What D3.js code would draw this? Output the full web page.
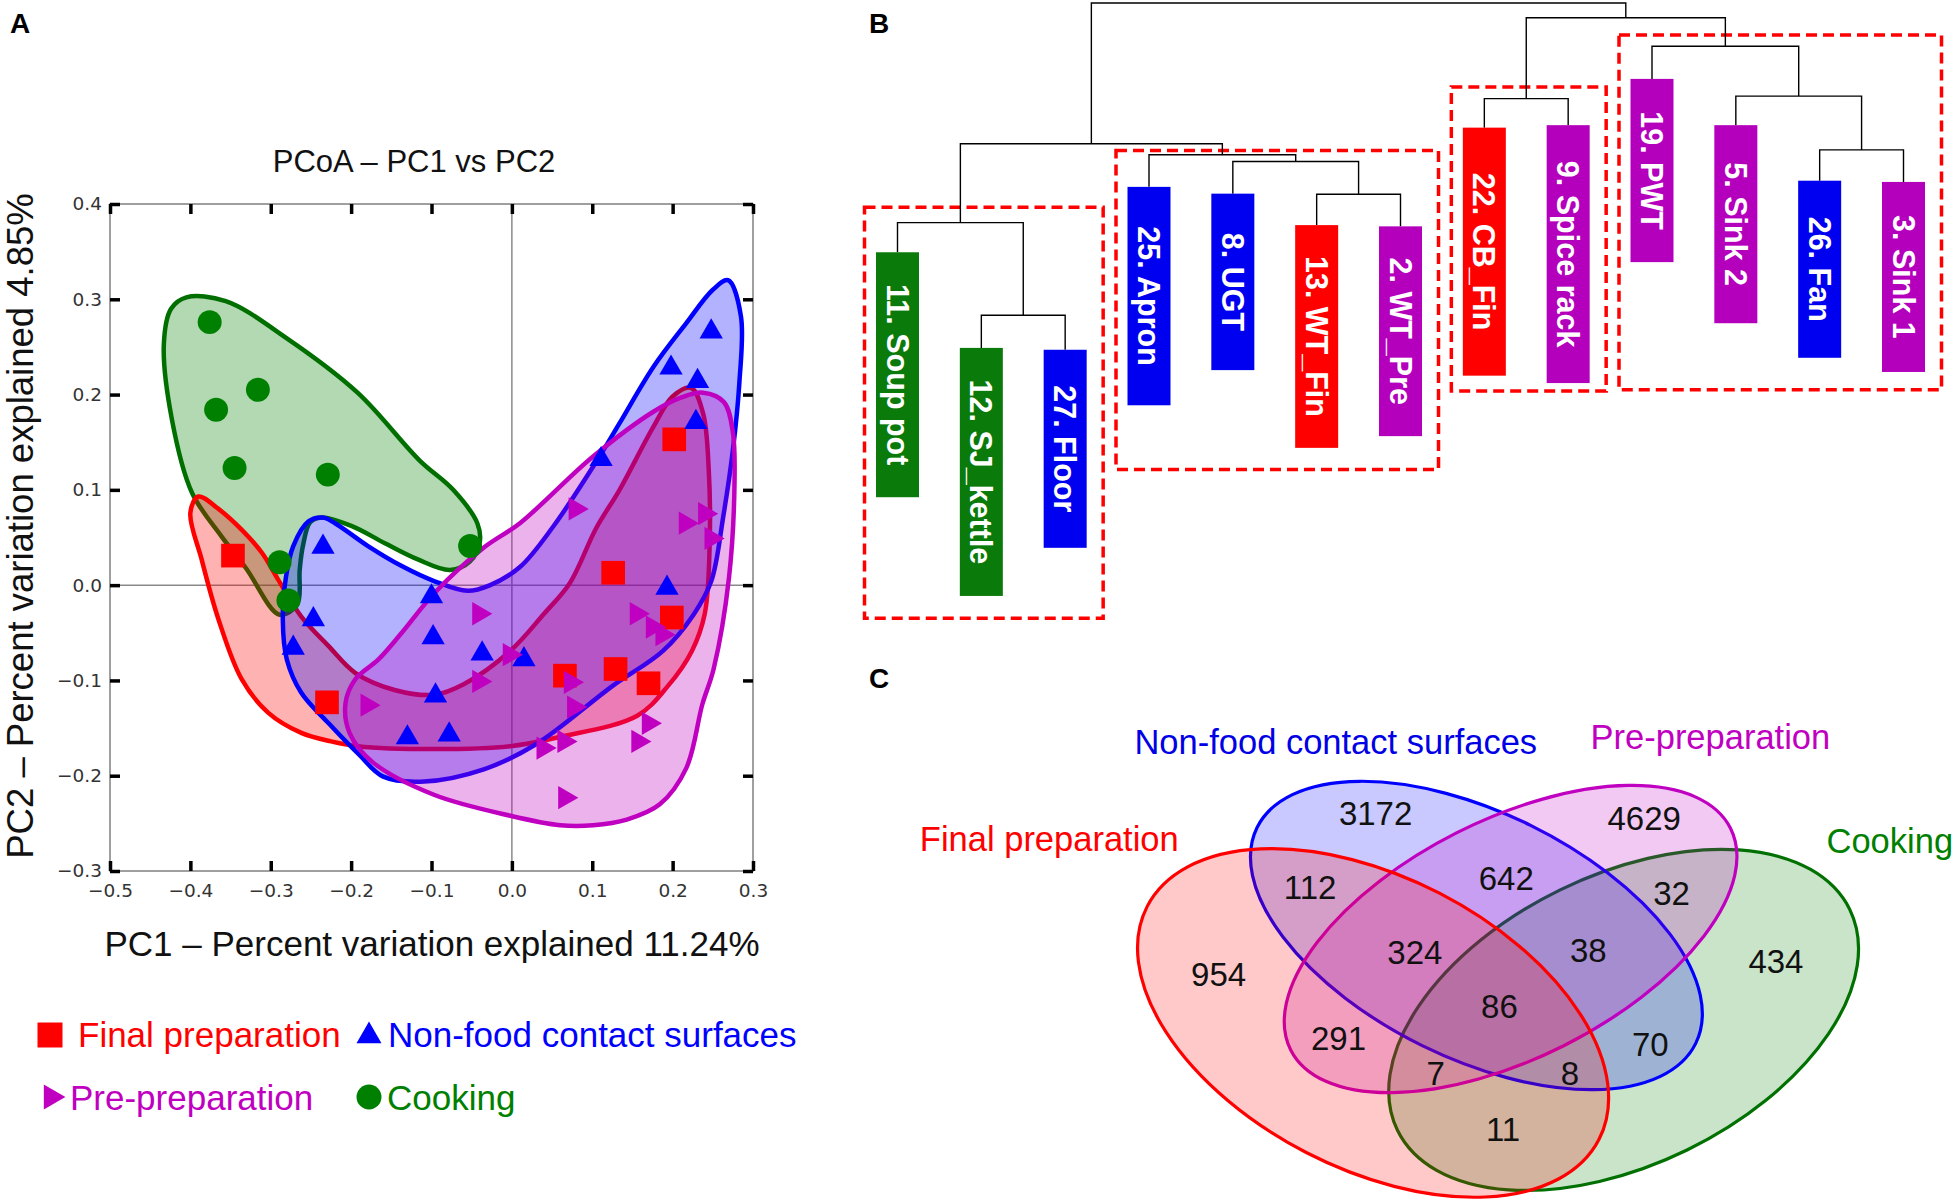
<!DOCTYPE html>
<html><head><meta charset="utf-8">
<script src="https://cdn.jsdelivr.net/npm/d3@7"></script>
<style>body{margin:0;background:#fff}svg{display:block}</style>
</head><body>
<svg id="c" width="1955" height="1199"></svg>
<script>
// ================= DATA =================
const groups = ["Final preparation", "Non-food contact surfaces", "Pre-preparation", "Cooking"];

// Panel A – PCoA scores (PC1, PC2)
const pcoaTicksX = [-0.5, -0.4, -0.3, -0.2, -0.1, 0.0, 0.1, 0.2, 0.3];
const pcoaTicksY = [-0.3, -0.2, -0.1, 0.0, 0.1, 0.2, 0.3, 0.4];
const ptsFinal = [[-0.347,0.031],[-0.230,-0.123],[0.202,0.153],[0.126,0.013],[0.199,-0.034],[0.066,-0.095],[0.129,-0.088],[0.170,-0.103]];
const ptsNonFood = [[0.248,0.266],[0.198,0.228],[0.231,0.214],[0.229,0.171],[0.111,0.132],[0.193,-0.003],[-0.235,0.040],[-0.100,-0.012],[-0.247,-0.036],[-0.272,-0.066],[-0.098,-0.055],[-0.037,-0.072],[0.015,-0.078],[-0.095,-0.116],[-0.130,-0.160],[-0.078,-0.157]];
const ptsPre = [[0.079,0.080],[0.216,0.065],[0.240,0.075],[0.248,0.049],[-0.041,-0.030],[0.155,-0.030],[0.175,-0.044],[0.187,-0.052],[-0.003,-0.073],[-0.041,-0.101],[0.073,-0.102],[-0.180,-0.126],[0.077,-0.128],[0.170,-0.145],[0.039,-0.171],[0.065,-0.164],[0.157,-0.164],[0.066,-0.223]];
const ptsCooking = [[-0.376,0.276],[-0.368,0.184],[-0.316,0.205],[-0.345,0.123],[-0.229,0.116],[-0.052,0.041],[-0.289,0.024],[-0.278,-0.016]];

// group envelopes (outline traced in PC units)
const hullCooking = [[-0.405,0.302],[-0.356,0.298],[-0.280,0.259],[-0.192,0.202],[-0.115,0.131],[-0.073,0.100],[-0.043,0.065],[-0.040,0.045],[-0.052,0.025],[-0.077,0.016],[-0.117,0.027],[-0.158,0.044],[-0.199,0.062],[-0.237,0.071],[-0.251,0.066],[-0.260,0.041],[-0.264,0.016],[-0.267,-0.020],[-0.289,-0.031],[-0.331,0.018],[-0.362,0.052],[-0.398,0.097],[-0.423,0.174],[-0.433,0.253],[-0.424,0.290]];
const hullFinal = [[-0.390,0.093],[-0.365,0.080],[-0.336,0.058],[-0.311,0.034],[-0.291,0.006],[-0.262,-0.033],[-0.228,-0.064],[-0.195,-0.092],[-0.146,-0.110],[-0.096,-0.115],[-0.060,-0.104],[-0.002,-0.069],[0.040,-0.030],[0.072,0.002],[0.105,0.060],[0.134,0.100],[0.176,0.166],[0.200,0.198],[0.223,0.207],[0.238,0.180],[0.245,0.120],[0.246,0.040],[0.240,-0.030],[0.224,-0.069],[0.194,-0.106],[0.156,-0.137],[0.061,-0.159],[-0.002,-0.169],[-0.097,-0.172],[-0.192,-0.169],[-0.225,-0.164],[-0.262,-0.155],[-0.303,-0.134],[-0.336,-0.099],[-0.365,-0.036],[-0.386,0.027],[-0.400,0.076]];
const hullNonFood = [[0.269,0.320],[0.285,0.282],[0.283,0.212],[0.275,0.142],[0.263,0.072],[0.248,0.004],[0.226,-0.031],[0.188,-0.069],[0.125,-0.106],[0.030,-0.167],[-0.034,-0.193],[-0.109,-0.206],[-0.160,-0.201],[-0.190,-0.178],[-0.228,-0.145],[-0.262,-0.113],[-0.280,-0.078],[-0.285,-0.036],[-0.281,0.009],[-0.272,0.041],[-0.253,0.067],[-0.235,0.071],[-0.220,0.065],[-0.179,0.041],[-0.137,0.020],[-0.096,0.004],[-0.055,-0.006],[-0.027,0.000],[0.010,0.019],[0.051,0.061],[0.109,0.135],[0.134,0.170],[0.176,0.229],[0.217,0.275],[0.250,0.310]];
const hullPre = [[0.238,0.202],[0.264,0.192],[0.275,0.160],[0.277,0.107],[0.270,0.007],[0.251,-0.088],[0.237,-0.125],[0.217,-0.192],[0.184,-0.230],[0.143,-0.246],[0.101,-0.252],[0.060,-0.252],[-0.002,-0.242],[-0.097,-0.220],[-0.173,-0.186],[-0.202,-0.155],[-0.207,-0.124],[-0.195,-0.099],[-0.166,-0.078],[-0.137,-0.050],[-0.096,-0.008],[-0.034,0.040],[0.010,0.065],[0.101,0.135],[0.176,0.182],[0.211,0.197]];

// Panel B – dendrogram
const leaves = ["11. Soup pot","12. SJ_kettle","27. Floor","25. Apron","8. UGT","13. WT_Fin","2. WT_Pre","22. CB_Fin","9. Spice rack","19. PWT","5. Sink 2","26. Fan","3. Sink 1"];
const leafGroup = ["Cooking","Cooking","Non-food contact surfaces","Non-food contact surfaces","Non-food contact surfaces","Final preparation","Pre-preparation","Final preparation","Pre-preparation","Pre-preparation","Pre-preparation","Non-food contact surfaces","Pre-preparation"];
const leafTop = [0.596,0.441,0.438,0.702,0.691,0.640,0.638,0.798,0.802,0.877,0.802,0.712,0.710];
const leafBottom = [0.199,0.039,0.117,0.348,0.405,0.279,0.298,0.396,0.384,0.580,0.481,0.425,0.402];
const merges = [
  ["n1","12. SJ_kettle","27. Floor",0.494],
  ["n2","11. Soup pot","n1",0.644],
  ["n3","13. WT_Fin","2. WT_Pre",0.690],
  ["n4","8. UGT","n3",0.743],
  ["n5","25. Apron","n4",0.754],
  ["n6","n2","n5",0.772],
  ["n7","22. CB_Fin","9. Spice rack",0.845],
  ["n8","26. Fan","3. Sink 1",0.762],
  ["n9","5. Sink 2","n8",0.849],
  ["n10","19. PWT","n9",0.930],
  ["n11","n7","n10",0.976],
  ["root","n6","n11",1.000]
];
const clusterFirst = ["11. Soup pot","25. Apron","22. CB_Fin","19. PWT"];
const clusterLast = ["27. Floor","2. WT_Pre","9. Spice rack","3. Sink 1"];
const clusterTop = [0.669,0.761,0.864,0.948];
const clusterBottom = [0.003,0.244,0.371,0.373];

// Panel C – Venn counts
const vennRegions = ["F","N","P","C","FN","NP","PC","FNP","NPC","FP","NC","FNPC","FPC","FNC","FC"];
const vennCounts = [954,3172,4629,434,112,642,32,324,38,291,70,86,7,8,11];

// ================= LAYOUT / STYLE =================
const colors = {"Final preparation":"#ff0000","Non-food contact surfaces":"#0000ff","Pre-preparation":"#c000c0","Cooking":"#008000"};
const hullStroke = {"Final preparation":"#ff0000","Non-food contact surfaces":"#0000ff","Pre-preparation":"#c000c0","Cooking":"#006f00"};
const barColor = {"Final preparation":"#ff0000","Non-food contact surfaces":"#0000f0","Pre-preparation":"#b400bc","Cooking":"#0a7a0a"};
const SANS = "'Liberation Sans', Arial, sans-serif";

const svg = d3.select("#c");

// ---------- Panel A ----------
const xA = d3.scaleLinear().domain([-0.5,0.3]).range([110,753]);
const yA = d3.scaleLinear().domain([-0.3,0.4]).range([871,204]);
const gA = svg.append("g");

gA.append("text").attr("x",10).attr("y",33).text("A").attr("font-family",SANS).attr("font-weight","bold").attr("font-size",28);
gA.append("text").attr("x",414).attr("y",172).attr("text-anchor","middle").text("PCoA – PC1 vs PC2")
  .attr("font-family",SANS).attr("font-size",31).attr("fill","#111");

// crosshair
gA.append("line").attr("x1",xA(0)).attr("x2",xA(0)).attr("y1",yA(0.4)).attr("y2",yA(-0.3)).attr("stroke","#8a8a8a").attr("stroke-width",1.5);
gA.append("line").attr("x1",xA(-0.5)).attr("x2",xA(0.3)).attr("y1",yA(0)).attr("y2",yA(0)).attr("stroke","#8a8a8a").attr("stroke-width",1.5);

// hulls
const hullLine = d3.line().x(d=>xA(d[0])).y(d=>yA(d[1])).curve(d3.curveCatmullRomClosed.alpha(0.5));
[["Cooking",hullCooking],["Final preparation",hullFinal],["Non-food contact surfaces",hullNonFood],["Pre-preparation",hullPre]].forEach(([g,h])=>{
  gA.append("path").attr("d",hullLine(h)).attr("fill",colors[g]).attr("fill-opacity",0.3)
    .attr("stroke",hullStroke[g]).attr("stroke-width",4.5);
});

// points
const symSquare = d3.symbol().type(d3.symbolSquare).size(560);
const symTri = d3.symbol().type(d3.symbolTriangle).size(235);
const symCircle = d3.symbol().type(d3.symbolCircle).size(450);
function drawPts(pts, sym, col, rot){
  gA.append("g").selectAll("path").data(pts).join("path")
    .attr("d",sym()).attr("fill",col)
    .attr("transform",d=>`translate(${xA(d[0])},${yA(d[1])}) rotate(${rot})`);
}
drawPts(ptsCooking, symCircle, colors["Cooking"], 0);
drawPts(ptsFinal, symSquare, colors["Final preparation"], 0);
drawPts(ptsNonFood, symTri, colors["Non-food contact surfaces"], 0);
drawPts(ptsPre, symTri, colors["Pre-preparation"], 90);

// frame
gA.append("rect").attr("x",xA(-0.5)).attr("y",yA(0.4)).attr("width",xA(0.3)-xA(-0.5)).attr("height",yA(-0.3)-yA(0.4))
  .attr("fill","none").attr("stroke","#808080").attr("stroke-width",1.5);

const fmt = d3.format(".1f");
function styleAxis(g){
  g.select(".domain").remove();
  g.selectAll(".tick line").attr("stroke","#000").attr("stroke-width",3.5);
  g.selectAll(".tick text").attr("font-family","'DejaVu Sans', sans-serif").attr("font-size",18.5).attr("fill","#333");
}
gA.append("g").attr("transform",`translate(${xA(-0.5)},0)`)
  .call(d3.axisLeft(yA).tickValues(pcoaTicksY).tickFormat(fmt).tickSizeInner(-10).tickSizeOuter(0).tickPadding(8)).call(styleAxis);
gA.append("g").attr("transform",`translate(0,${yA(-0.3)})`)
  .call(d3.axisBottom(xA).tickValues(pcoaTicksX).tickFormat(fmt).tickSizeInner(-10).tickSizeOuter(0).tickPadding(13)).call(styleAxis);
gA.append("g").attr("transform",`translate(0,${yA(0.4)})`)
  .call(d3.axisTop(xA).tickValues(pcoaTicksX).tickFormat("").tickSizeInner(-10).tickSizeOuter(0)).call(styleAxis);
gA.append("g").attr("transform",`translate(${xA(0.3)},0)`)
  .call(d3.axisRight(yA).tickValues(pcoaTicksY).tickFormat("").tickSizeInner(-10).tickSizeOuter(0)).call(styleAxis);

// axis titles
gA.append("text").attr("x",432).attr("y",956).attr("text-anchor","middle").text("PC1 – Percent variation explained 11.24%")
  .attr("font-family",SANS).attr("font-size",35).attr("fill","#111");
gA.append("text").attr("transform","translate(33,526) rotate(-90)").attr("text-anchor","middle").text("PC2 – Percent variation explained 4.85%")
  .attr("font-family",SANS).attr("font-size",36.5).attr("fill","#111");

// legend
const legendPos = [[50,1035,78,1047],[369,1036,388,1047],[51,1097,70,1110],[369,1097,387,1110]];
const legendSym = [
  d3.symbol().type(d3.symbolSquare).size(625),
  d3.symbol().type(d3.symbolTriangle).size(270),
  d3.symbol().type(d3.symbolTriangle).size(270),
  d3.symbol().type(d3.symbolCircle).size(490)
];
const legendRot = [0,0,90,0];
groups.forEach((g,i)=>{
  const p = legendPos[i];
  gA.append("path").attr("d",legendSym[i]()).attr("fill",colors[g]).attr("transform",`translate(${p[0]},${p[1]}) rotate(${legendRot[i]})`);
  gA.append("text").attr("x",p[2]).attr("y",p[3]).text(g).attr("fill",colors[g]).attr("font-family",SANS).attr("font-size",35);
});

// ---------- Panel B ----------
const gB = svg.append("g");
gB.append("text").attr("x",869).attr("y",33).text("B").attr("font-family",SANS).attr("font-weight","bold").attr("font-size",28);
const xB = d3.scalePoint().domain(leaves).range([897.5,1903.5]);
const yB = d3.scaleLinear().domain([0,1]).range([620,3]);
const barW = 43;

const nodeX = {}, nodeH = {}, leafIdx = {};
leaves.forEach((l,i)=>{ nodeX[l]=xB(l); leafIdx[l]=i; });
merges.forEach(([id,a,b,h])=>{ nodeX[id]=(nodeX[a]+nodeX[b])/2; nodeH[id]=h; });
function childTopY(c){ return (c in leafIdx) ? yB(leafTop[leafIdx[c]]) : yB(nodeH[c]); }

// dashed cluster boxes
clusterFirst.forEach((f,i)=>{
  const x0 = xB(f)-33, x1 = xB(clusterLast[i])+38;
  gB.append("rect").attr("x",x0).attr("y",yB(clusterTop[i])).attr("width",x1-x0).attr("height",yB(clusterBottom[i])-yB(clusterTop[i]))
    .attr("fill","none").attr("stroke","#ff0000").attr("stroke-width",3.5).attr("stroke-dasharray","11,6");
});

const linkPath = merges.map(([id,a,b,h])=>{
  const y = yB(h);
  return `M${nodeX[a]},${childTopY(a)}V${y}H${nodeX[b]}V${childTopY(b)}`;
}).join("");
gB.append("path").attr("d",linkPath).attr("fill","none").attr("stroke","#000").attr("stroke-width",1.4);

leaves.forEach((l,i)=>{
  const x = xB(l), y0 = yB(leafTop[i]), y1 = yB(leafBottom[i]);
  gB.append("rect").attr("x",x-barW/2).attr("y",y0).attr("width",barW).attr("height",y1-y0).attr("fill",barColor[leafGroup[i]]);
  gB.append("text").attr("transform",`translate(${x},${(y0+y1)/2}) rotate(90)`).attr("text-anchor","middle").attr("dominant-baseline","central")
    .text(l).attr("fill","#fff").attr("font-family",SANS).attr("font-weight","bold").attr("font-size",30.5);
});

// ---------- Panel C ----------
const gC = svg.append("g");
gC.append("text").attr("x",869).attr("y",688).text("C").attr("font-family",SANS).attr("font-weight","bold").attr("font-size",28);
const vx = d3.scaleLinear().domain([-1,1]).range([1138,1858]);
const vy = d3.scaleLinear().domain([-1,1]).range([650,1370]);
const vUnit = vx(1)-vx(0);
const ellipses = {
  "Final preparation":        {cx:-0.347, cy: 0.036, rx:0.706, ry:0.405, a: 27.3},
  "Non-food contact surfaces":{cx:-0.060, cy:-0.207, rx:0.679, ry:0.341, a: 26.2},
  "Pre-preparation":          {cx: 0.035, cy:-0.197, rx:0.684, ry:0.331, a:-26.75},
  "Cooking":                  {cx: 0.349, cy: 0.0275,rx:0.699, ry:0.402, a:-26.0}
};
["Cooking","Non-food contact surfaces","Pre-preparation","Final preparation"].forEach(g=>{
  const e = ellipses[g];
  gC.append("ellipse").attr("transform",`translate(${vx(e.cx)},${vy(e.cy)}) rotate(${e.a})`)
    .attr("rx",e.rx*vUnit).attr("ry",e.ry*vUnit)
    .attr("fill",colors[g]).attr("fill-opacity",0.21)
    .attr("stroke",g==="Cooking"?"#007000":colors[g]).attr("stroke-width",3.2);
});
const vennLabelPos = {F:[-0.776,-0.100],N:[-0.340,-0.547],P:[0.406,-0.532],C:[0.772,-0.135],FN:[-0.522,-0.341],NP:[0.023,-0.365],PC:[0.482,-0.324],
  FNP:[-0.231,-0.159],NPC:[0.251,-0.164],FP:[-0.443,0.078],NC:[0.423,0.097],FNPC:[0.004,-0.011],FPC:[-0.173,0.176],FNC:[0.200,0.176],FC:[0.014,0.333]};
vennRegions.forEach((r,i)=>{
  const p = vennLabelPos[r];
  gC.append("text").attr("x",vx(p[0])).attr("y",vy(p[1])).attr("text-anchor","middle").attr("dominant-baseline","central")
    .text(vennCounts[i]).attr("font-family",SANS).attr("font-size",33).attr("fill","#111");
});
const setLabelPos = {"Final preparation":[-1.606,-0.443],"Non-food contact surfaces":[-1.010,-0.712],"Pre-preparation":[0.257,-0.726],"Cooking":[0.9125,-0.437]};
groups.forEach(g=>{
  const p = setLabelPos[g];
  gC.append("text").attr("x",vx(p[0])).attr("y",vy(p[1])).text(g).attr("fill",g==="Non-food contact surfaces"?"#0000e6":colors[g])
    .attr("font-family",SANS).attr("font-size",34.5);
});
</script>
</body></html>
